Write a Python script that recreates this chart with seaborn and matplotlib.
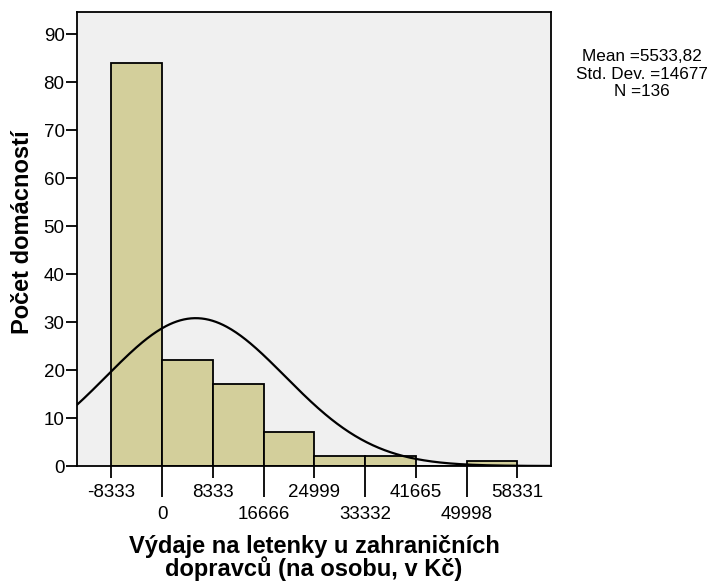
import numpy as np
import pandas as pd
import matplotlib.pyplot as plt
import seaborn as sns

# data
bin_edges = [-8333, 0, 8333, 16666, 24999, 33332, 41665, 49998, 58331]
counts = [84, 22, 17, 7, 2, 2, 0, 1]
mean_val = 5533.82
std_val = 14677
n_obs = 136

tick_odd = [-8333, 8333, 24999, 41665, 58331]
tick_even = [0, 16666, 33332, 49998]

sns.set_style("white")
plt.rcParams['font.family'] = ['Liberation Sans', 'DejaVu Sans']
plt.rcParams['text.color'] = 'black'
plt.rcParams['axes.labelcolor'] = 'black'
plt.rcParams['xtick.color'] = 'black'
plt.rcParams['ytick.color'] = 'black'

centers = [(a + b) / 2 for a, b in zip(bin_edges[:-1], bin_edges[1:])]
df = pd.DataFrame({"center": centers, "count": counts})

fig = plt.figure(figsize=(7.11, 5.82), dpi=100)
ax = fig.add_axes([0.1083, 0.1993, 0.6667, 0.7801])
ax.set_facecolor("#f0f0f0")

sns.histplot(data=df, x="center", weights="count", bins=bin_edges, ax=ax,
             color="#d3cf9b", alpha=1, edgecolor="black", linewidth=1.3)

# fitted normal curve (SPSS style)
xlim = (-13957, 63873)
xs = np.linspace(xlim[0], xlim[1], 400)
binw = bin_edges[1] - bin_edges[0]
ys = n_obs * binw / (std_val * np.sqrt(2 * np.pi)) * np.exp(-0.5 * ((xs - mean_val) / std_val) ** 2)
sns.lineplot(x=xs, y=ys, ax=ax, color="black", linewidth=1.6)

ax.set_xlim(*xlim)
ax.set_ylim(0, 94.6)
ax.set_yticks([0, 10, 20, 30, 40, 50, 60, 70, 80, 90])

ax.set_xticks(tick_odd)
ax.set_xticklabels([str(t) for t in tick_odd])
ax.set_xticks(tick_even, minor=True)
ax.set_xticklabels([str(t) for t in tick_even], minor=True)
ax.tick_params(axis="x", which="major", length=8.6, width=1.3,
               labelsize=13.5, pad=4, direction="out", bottom=True)
ax.tick_params(axis="x", which="minor", length=22.5, width=1.3,
               labelsize=13.5, pad=6, direction="out", bottom=True)
ax.tick_params(axis="y", length=8, width=1.3, labelsize=13.5,
               pad=1, direction="out", left=True)

for s in ax.spines.values():
    s.set_color("black")
    s.set_linewidth(1.3)

ax.set_xlabel("Výdaje na letenky u zahraničních\ndopravců (na osobu, v Kč)",
              fontsize=17, fontweight="bold", linespacing=0.93)
ax.xaxis.set_label_coords(0.5, -0.203)
ax.xaxis.label.set_va("center")
ax.set_ylabel("Počet domácností", fontsize=17, fontweight="bold")
ax.yaxis.set_label_coords(-0.115, 0.5155)
ax.yaxis.label.set_va("center")

fig.text(0.903, 0.915, "Mean =5533,82\nStd. Dev. =14677\nN =136",
         ha="center", va="top", fontsize=12.3, linespacing=1.2)

fig.savefig("out.png", dpi=100)
